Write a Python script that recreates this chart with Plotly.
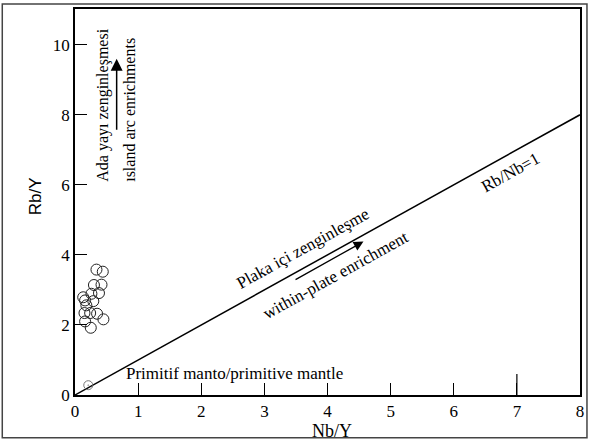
import plotly.graph_objects as go

# Sample data (Nb/Y, Rb/Y)
nb_y = [0.34, 0.44, 0.30, 0.42, 0.26, 0.38, 0.13, 0.16, 0.29, 0.18, 0.15, 0.24, 0.35, 0.45, 0.16, 0.25]
rb_y = [3.58, 3.52, 3.14, 3.15, 2.89, 2.91, 2.79, 2.70, 2.68, 2.56, 2.34, 2.34, 2.32, 2.16, 2.10, 1.92]

# Primitive mantle
pm_x = [0.21]
pm_y = [0.28]

# Rb/Nb = 1 reference line
ref_x = [0, 8]
ref_y = [0, 8]

x_ticks = [0, 1, 2, 3, 4, 5, 6, 7, 8]
y_ticks = [0, 2, 4, 6, 8, 10]

SERIF = "Liberation Serif, Times New Roman, serif"
SANS = "Liberation Sans, Arial, sans-serif"

fig = go.Figure()
fig.add_trace(go.Scatter(x=ref_x, y=ref_y, mode="lines",
                         line=dict(color="black", width=1.5), hoverinfo="skip"))
fig.add_trace(go.Scatter(x=nb_y, y=rb_y, mode="markers",
                         marker=dict(symbol="circle-open", size=11, color="#222",
                                     line=dict(width=1))))
fig.add_trace(go.Scatter(x=pm_x, y=pm_y, mode="markers",
                         marker=dict(symbol="circle-open-dot", size=9, color="#777",
                                     line=dict(width=1))))
# longer tick at x=7
fig.add_trace(go.Scatter(x=[7, 7], y=[0, 0.6], mode="lines",
                         line=dict(color="black", width=1.2), hoverinfo="skip"))

fig.update_layout(
    width=591, height=442,
    margin=dict(l=75, r=9, t=7, b=47),
    paper_bgcolor="white", plot_bgcolor="white",
    showlegend=False,
    font=dict(family=SERIF, size=17, color="black"),
)
fig.update_xaxes(range=[0, 8], tickvals=x_ticks, ticks="inside", ticklen=12,
                 tickwidth=1.2, tickcolor="black", showline=True, linecolor="black",
                 linewidth=1.5, mirror=True, showgrid=False, zeroline=False,
                 tickfont=dict(family=SERIF, size=17))
fig.update_yaxes(range=[0, 11.02], tickvals=y_ticks, ticks="inside", ticklen=12,
                 tickwidth=1.2, tickcolor="black", showline=True, linecolor="black",
                 linewidth=1.5, mirror=True, showgrid=False, zeroline=False,
                 tickfont=dict(family=SERIF, size=17))

# axis titles
fig.add_annotation(x=4.07, y=-0.093, xref="x", yref="paper", text="Nb/Y",
                   xanchor="center", yanchor="middle",
                   showarrow=False, font=dict(family=SERIF, size=18, color="black"))
fig.add_annotation(x=-0.079, y=5.68, xref="paper", yref="y", text="Rb/Y",
                   xanchor="center", yanchor="middle",
                   textangle=-90, showarrow=False,
                   font=dict(family=SANS, size=17, color="black"))

# outer frame
fig.add_shape(type="rect", xref="paper", yref="paper",
              x0=-0.144, x1=1.0138, y0=-0.111, y1=1.013,
              line=dict(color="#444", width=1.5))

ann = dict(showarrow=False, xanchor="center", yanchor="middle",
           font=dict(family=SERIF, size=17, color="black"))
ann_v = dict(showarrow=False, xanchor="center", yanchor="middle",
             font=dict(family=SERIF, size=16, color="black"))
fig.add_annotation(x=0.45, y=8.27, text="Ada yayı zenginleşmesi", textangle=-90, **ann_v)
fig.add_annotation(x=0.87, y=8.14, text="ısland arc enrichments", textangle=-90, **ann_v)
fig.add_annotation(x=0.66, y=9.6, ax=0.66, ay=7.53, axref="x", ayref="y",
                   text="", showarrow=True, arrowhead=2, arrowsize=1.6,
                   arrowwidth=1.5, arrowcolor="black")
fig.add_annotation(x=6.9, y=6.34, text="Rb/Nb=1", textangle=-29, **ann)
fig.add_annotation(x=3.61, y=4.17, text="Plaka içi zenginleşme", textangle=-29, **ann)
fig.add_annotation(x=4.12, y=3.42, text="within-plate enrichment", textangle=-29, **ann)
fig.add_annotation(x=4.57, y=4.38, ax=3.47, ay=3.27, axref="x", ayref="y",
                   text="", showarrow=True, arrowhead=2, arrowsize=1.5,
                   arrowwidth=1.3, arrowcolor="black")
fig.add_annotation(x=2.53, y=0.62, text="Primitif manto/primitive mantle", **ann)

fig.write_html("out.html")
